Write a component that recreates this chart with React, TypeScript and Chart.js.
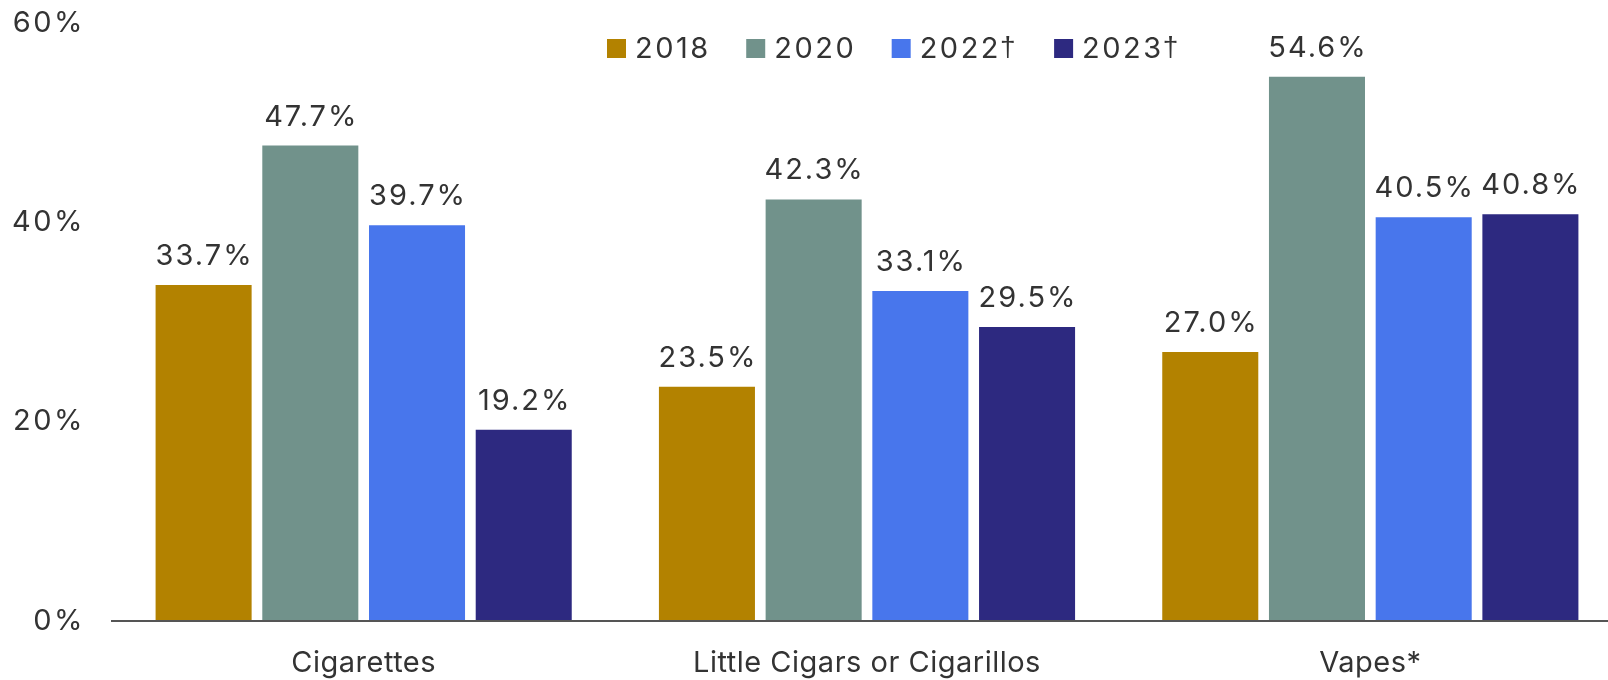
import React, { useEffect, useRef } from "react";
import { Chart, registerables } from "chart.js";

Chart.register(...registerables);

const categories = ["Cigarettes", "Little Cigars or Cigarillos", "Vapes*"];
const seriesLabels = ["2018", "2020", "2022†", "2023†"];
const values2018 = [33.7, 23.5, 27.0];
const values2020 = [47.7, 42.3, 54.6];
const values2022 = [39.7, 33.1, 40.5];
const values2023 = [19.2, 29.5, 40.8];
const seriesColors = ["#B38200", "#71928B", "#4876EC", "#2D2980"];
const yTicks = [0, 20, 40, 60];

const FONT = "Inter";
const FS = 29;
const TEXT = "#333333";
const LS_YTICK = 2.5;
const LS_VALUE = 2;
const LS_XTICK = 0.5;
const LS_LEGEND = 2.5;

function setLS(ctx: any, px: number) {
  try { ctx.letterSpacing = px + "px"; } catch (e) {}
}

const spacingPlugin = {
  id: "spacing",
  beforeUpdate(chart: any) { setLS(chart.ctx, LS_YTICK); },
  beforeDraw(chart: any) { setLS(chart.ctx, LS_YTICK); },
};

const valueLabels = {
  id: "valueLabels",
  afterDatasetsDraw(chart: any) {
    const ctx = chart.ctx;
    ctx.save();
    setLS(ctx, LS_VALUE);
    ctx.font = `${FS}px ${FONT}`;
    ctx.fillStyle = TEXT;
    ctx.textAlign = "center";
    ctx.textBaseline = "alphabetic";
    chart.data.datasets.forEach((ds: any, i: number) => {
      const meta = chart.getDatasetMeta(i);
      meta.data.forEach((bar: any, j: number) => {
        ctx.fillText(Number(ds.data[j]).toFixed(1) + "%", bar.x + LS_VALUE / 2, bar.y - 20);
      });
    });
    ctx.restore();
    // x-axis labels (ticks.z: 1) are drawn after this hook
    setLS(ctx, LS_XTICK);
  },
};

const legendPlugin = {
  id: "customLegend",
  afterDraw(chart: any) {
    const ctx = chart.ctx;
    ctx.save();
    setLS(ctx, LS_LEGEND);
    ctx.textAlign = "left";
    ctx.textBaseline = "alphabetic";
    let x = 607;
    const boxTop = 39;
    const box = 19;
    chart.data.datasets.forEach((ds: any) => {
      ctx.fillStyle = ds.backgroundColor;
      ctx.fillRect(x, boxTop, box, box);
      ctx.fillStyle = TEXT;
      let tx = x + box + 9;
      const label: string = ds.label;
      const hasDagger = label.endsWith("†");
      const main = hasDagger ? label.slice(0, -1) : label;
      ctx.font = `${FS}px ${FONT}`;
      ctx.fillText(main, tx, boxTop + box);
      tx += ctx.measureText(main).width;
      if (hasDagger) {
        setLS(ctx, 0);
        ctx.font = `${FS - 1}px "Liberation Sans"`;
        ctx.fillText("†", tx - 1, boxTop + box - 2);
        tx += ctx.measureText("†").width + 2;
        setLS(ctx, LS_LEGEND);
      }
      x = tx + 38 - LS_LEGEND;
    });
    ctx.restore();
  },
};

export default function App() {
  const ref = useRef<HTMLCanvasElement | null>(null);
  useEffect(() => {
    if (!ref.current) return;
    const seriesValues = [values2018, values2020, values2022, values2023];
    const chart = new Chart(ref.current, {
      type: "bar",
      data: {
        labels: categories,
        datasets: seriesLabels.map((label, i) => ({
          label,
          data: seriesValues[i],
          backgroundColor: seriesColors[i],
          borderWidth: 0,
          categoryPercentage: 0.848,
          barPercentage: 0.9,
        })),
      },
      options: {
        responsive: false,
        animation: false,
        devicePixelRatio: 1,
        layout: { padding: { top: 23, left: 0, right: 0, bottom: 0 } },
        plugins: {
          legend: { display: false },
          tooltip: { enabled: false },
        },
        scales: {
          x: {
            grid: { display: false, drawTicks: false },
            border: { display: true, color: "#555555", width: 2, z: 1 },
            ticks: {
              z: 1,
              color: TEXT,
              font: { family: FONT, size: FS },
              padding: 25,
              maxRotation: 0,
              autoSkip: false,
            },
            afterFit: (s: any) => { s.height = 59; },
          },
          y: {
            min: 0,
            max: 60,
            afterBuildTicks: (s: any) => { s.ticks = yTicks.map((v) => ({ value: v })); },
            grid: { display: false, drawTicks: false },
            border: { display: false },
            ticks: {
              color: TEXT,
              font: { family: FONT, size: FS },
              padding: 27,
              callback: (v: any) => v + "%",
            },
            afterFit: (s: any) => {
              s.width = 112;
              s.paddingTop = 5;
              s.paddingBottom = 5;
            },
          },
        },
      },
      plugins: [spacingPlugin, valueLabels, legendPlugin],
    });
    return () => chart.destroy();
  }, []);
  return (
    <div style={{ position: "absolute", left: 0, top: 0, width: 1608, height: 680, overflow: "hidden", background: "#fff" }}>
      <canvas ref={ref} width={1622} height={680} style={{ width: 1622, height: 680, display: "block" }} />
    </div>
  );
}
